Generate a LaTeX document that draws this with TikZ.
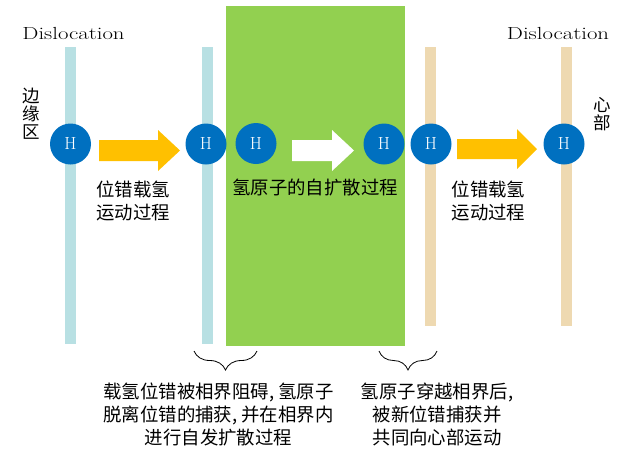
\documentclass[tikz,border=0pt]{standalone}
\usepackage{fontspec}
\usepackage{graphicx}
\newfontfamily\cjk{Noto Sans CJK SC}
\usetikzlibrary{decorations.pathreplacing}
\definecolor{hblue}{HTML}{0070C0}
\definecolor{barblue}{HTML}{B8E0E3}
\definecolor{bartan}{HTML}{EED9B1}
\definecolor{phase}{HTML}{92D050}
\definecolor{arrowyellow}{HTML}{FFC000}
\tikzset{
  hcirc/.style={circle, fill=hblue, minimum size=41pt, inner sep=0pt, text=white, font=\fontsize{17.5}{17.5}\selectfont},
  cjklabel/.style={align=center, inner sep=0pt, font=\cjk\fontsize{18.4}{23}\selectfont},
  vlabel/.style={align=center, inner sep=0pt, font=\cjk\fontsize{17.5}{18}\selectfont},
  disl/.style={anchor=base, inner sep=0pt, font=\fontsize{17.5}{18}\selectfont},
  bracestyle/.style={draw=black, line width=0.8pt, decorate, decoration={brace, mirror, amplitude=19pt}},
}
\begin{document}
\begin{tikzpicture}[x=1pt,y=-1pt]
\useasboundingbox (0,0) rectangle (622,451);
% bars
\fill[barblue] (65,47) rectangle (76,344);
\fill[barblue] (202,47) rectangle (213,344);
\fill[bartan] (425,47) rectangle (436,326);
\fill[bartan] (561,47) rectangle (572,326);
% phase region
\fill[phase] (226,6) rectangle (405,346);
% block arrows
\fill[arrowyellow] (99,140) -- (158,140) -- (158,130) -- (180,150.5) -- (158,171) -- (158,161) -- (99,161) -- cycle;
\fill[white] (292,140) -- (332,140) -- (332,130) -- (354,150.5) -- (332,171) -- (332,161) -- (292,161) -- cycle;
\fill[arrowyellow] (457,139) -- (517,139) -- (517,129) -- (537,149) -- (517,169) -- (517,159) -- (457,159) -- cycle;
% H atoms
\node[hcirc] (h1) at (70.5,144) {H};
\node[hcirc] (h2) at (206,144) {H};
\node[hcirc] (h3) at (256,143.5) {H};
\node[hcirc] (h4) at (384,144) {H};
\node[hcirc] (h5) at (431,144) {H};
\node[hcirc] (h6) at (564,144) {H};
% labels
\node[disl] (d1) at (73.5,39) {\scalebox{1.3}[1]{Dislocation}};
\node[disl] (d2) at (558,39) {\scalebox{1.3}[1]{Dislocation}};
\node[vlabel] (edge) at (31,113.5) {边\\缘\\区};
\node[vlabel] (core) at (602,114.5) {心\\部};
\node[cjklabel] (t1) at (133,200.5) {位错载氢\\运动过程};
\node[cjklabel] (t2) at (315,188) {氢原子的自扩散过程};
\node[cjklabel] (t3) at (488.5,200.5) {位错载氢\\运动过程};
% braces
\coordinate (b1l) at (194,351);
\coordinate (b1r) at (257,351);
\coordinate (b2l) at (379,351);
\coordinate (b2r) at (437,351);
\draw[bracestyle] (b1l) -- (b1r);
\draw[bracestyle] (b2l) -- (b2r);
\node[cjklabel] (n1) at (218.5,414) {载氢位错被相界阻碍, 氢原子\\脱离位错的捕获, 并在相界内\\进行自发扩散过程};
\node[cjklabel] (n2) at (437,414) {氢原子穿越相界后,\\被新位错捕获并\\共同向心部运动};
\end{tikzpicture}
\end{document}
